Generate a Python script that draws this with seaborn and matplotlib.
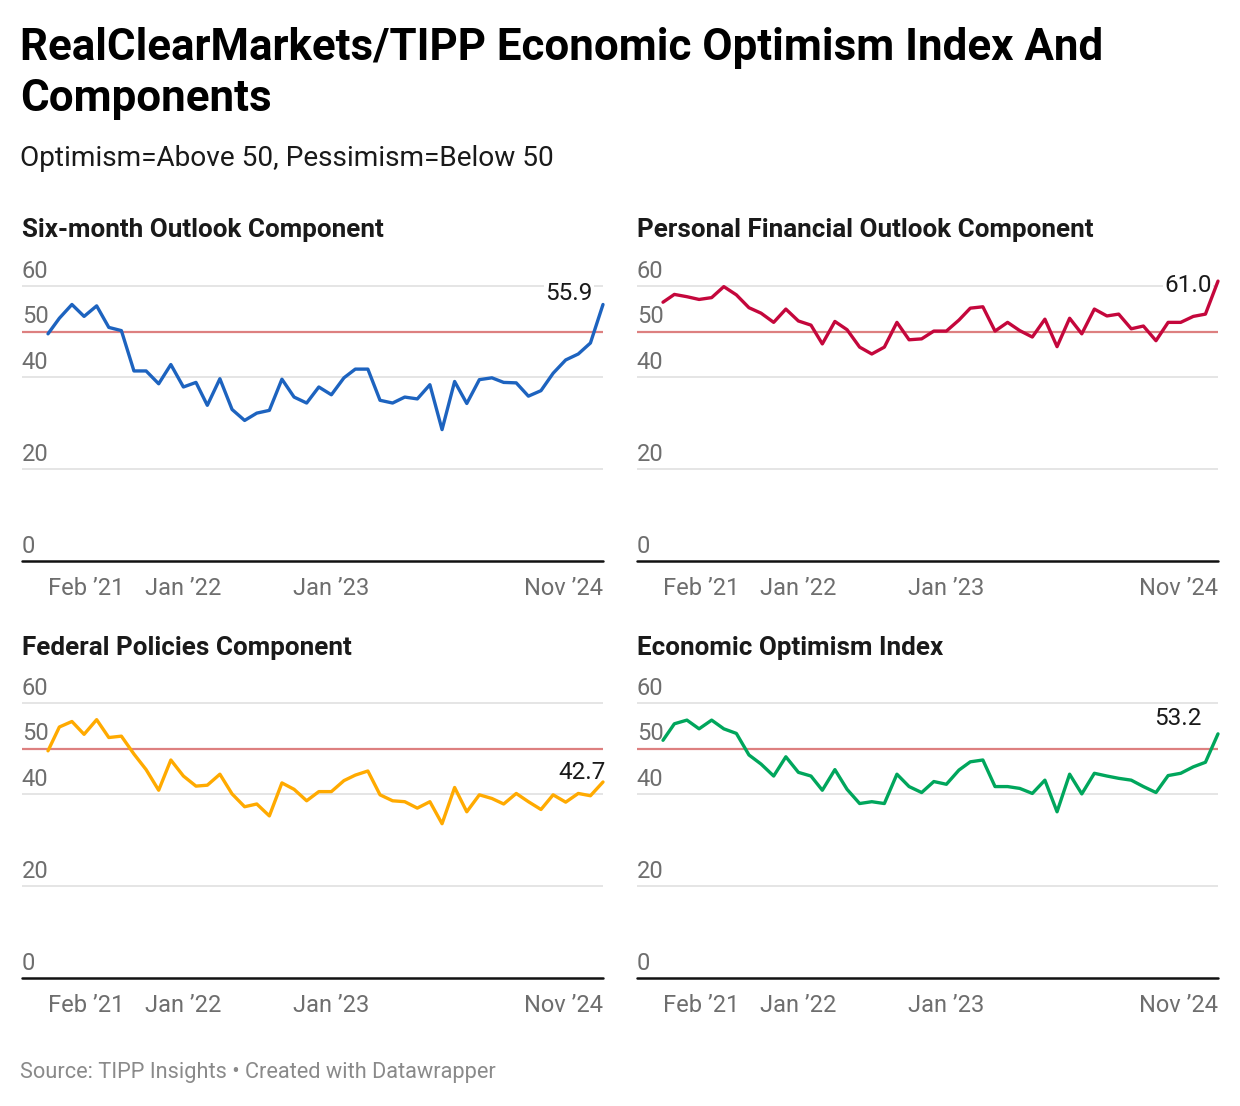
import matplotlib
matplotlib.use("Agg")
import matplotlib.pyplot as plt
import seaborn as sns
import pandas as pd

# ---------------- data ----------------
months = pd.date_range("2021-02-01", "2024-11-01", freq="MS")

six_month = [49.5, 52.9, 55.9, 53.3, 55.6, 50.9, 50.2, 41.4, 41.4, 38.6, 42.8, 37.9,
             38.9, 33.9, 39.7, 33.0, 30.6, 32.2, 32.8, 39.6, 35.7, 34.4, 37.9, 36.2,
             39.9, 41.8, 41.8, 35.0, 34.4, 35.7, 35.3, 38.4, 28.6, 39.1, 34.3, 39.5,
             39.9, 38.9, 38.8, 35.9, 37.1, 40.9, 43.8, 45.1, 47.5, 55.9]
personal = [56.4, 58.1, 57.6, 57.0, 57.4, 59.8, 58.0, 55.2, 54.0, 52.0, 54.9, 52.3,
            51.4, 47.3, 52.2, 50.4, 46.6, 45.1, 46.6, 52.0, 48.2, 48.4, 50.1, 50.1,
            52.5, 55.1, 55.4, 50.1, 52.0, 50.2, 48.8, 52.7, 46.7, 52.9, 49.5, 54.9,
            53.4, 53.8, 50.6, 51.2, 48.0, 52.0, 52.0, 53.3, 53.8, 61.0]
federal = [49.5, 54.7, 55.9, 53.1, 56.3, 52.4, 52.7, 48.8, 45.4, 40.9, 47.5, 44.0,
           41.8, 42.0, 44.4, 40.1, 37.3, 37.9, 35.3, 42.5, 41.1, 38.6, 40.6, 40.6,
           43.0, 44.2, 45.1, 39.9, 38.6, 38.4, 37.0, 38.4, 33.6, 41.5, 36.2, 39.9,
           39.1, 37.9, 40.2, 38.4, 36.7, 39.9, 38.3, 40.2, 39.7, 42.7]
optimism = [51.8, 55.4, 56.2, 54.3, 56.2, 54.3, 53.3, 48.6, 46.6, 44.0, 48.2, 44.8,
            44.0, 40.9, 45.4, 41.1, 38.0, 38.4, 38.0, 44.4, 41.7, 40.4, 42.8, 42.2,
            45.3, 47.1, 47.5, 41.7, 41.7, 41.3, 40.2, 43.1, 36.2, 44.4, 40.1, 44.6,
            44.0, 43.5, 43.1, 41.7, 40.4, 44.1, 44.6, 46.0, 47.0, 53.2]

panel_titles = ["Six-month Outlook Component", "Personal Financial Outlook Component",
                "Federal Policies Component", "Economic Optimism Index"]
series = [six_month, personal, federal, optimism]
value_labels = ["55.9", "61.0", "42.7", "53.2"]

tick_dates = ["2021-02-01", "2022-01-01", "2023-01-01", "2024-11-01"]
tick_labels = ["Feb \u201921", "Jan \u201922", "Jan \u201923", "Nov \u201924"]
y_labels = [0, 20, 40, 50, 60]
grid_values = [20, 40, 60]
reference_value = 50

title_line1 = "RealClearMarkets/TIPP Economic Optimism Index And"
title_line2 = "Components"
subtitle = "Optimism=Above 50, Pessimism=Below 50"
footer = "Source: TIPP Insights \u2022 Created with Datawrapper"

# ---------------- style ----------------
colors = ["#1d63bf", "#c4073c", "#ffaa00", "#00a65c"]
label_offsets = [(-7.2, 2.9), (-4.3, -7.6), (2.2, 1.9), (-12.2, 6.7)]  # points

sns.set_style("white")
plt.rcParams["font.family"] = ["Roboto", "DejaVu Sans"]

W, H = 1240, 1106
fig = plt.figure(figsize=(W / 100, H / 100), dpi=100)
fig.patch.set_facecolor("white")

px_per_unit = 275.0 / 60.0
ymax = 66.0
ax_w = 581.3
data_left_pad = 26.3
data_span_px = 555.0

panel_pos = [(21.7, 560.7), (636.7, 560.7), (21.7, 977.7), (636.7, 977.7)]
title_base = [237, 237, 655, 655]

start = months[0]
end = months[-1]
span = end - start
xleft = start - span * (data_left_pad / data_span_px)

for k in range(4):
    x0, ybase = panel_pos[k]
    h = ymax * px_per_unit
    ax = fig.add_axes([x0 / W, 1 - ybase / H, ax_w / W, h / H])
    ax.set_facecolor("none")
    df = pd.DataFrame({"month": months, "value": series[k]})
    sns.lineplot(data=df, x="month", y="value", ax=ax, color=colors[k],
                 linewidth=2.4, zorder=5)
    for ln in ax.lines:
        ln.set_clip_on(False)
        ln.set_solid_joinstyle("round")
        ln.set_solid_capstyle("round")
    for g in grid_values:
        ax.axhline(g, color="#e3e3e3", linewidth=1.3, zorder=1)
    ax.axhline(reference_value, color="#dd8080", linewidth=1.6, zorder=2)
    ax.axhline(0, color="#111111", linewidth=1.8, zorder=6, clip_on=False)
    ax.set_xlim(xleft, end)
    ax.set_ylim(0, ymax)
    for s in ax.spines.values():
        s.set_visible(False)
    ax.set_yticks([])
    ax.set_xlabel("")
    ax.set_ylabel("")
    ax.set_xticks(pd.to_datetime(tick_dates))
    ax.set_xticklabels(tick_labels)
    ax.tick_params(axis="x", length=0, pad=12, labelsize=17, colors="#6e6e6e")
    labs = ax.get_xticklabels()
    labs[0].set_ha("left")
    labs[-1].set_ha("right")
    for v in y_labels:
        ax.annotate(str(v), xy=(0, v), xycoords=("axes fraction", "data"),
                    xytext=(0, 5.8), textcoords="offset points",
                    ha="left", va="baseline", fontsize=17, color="#6e6e6e", zorder=3)
    dx, dy = label_offsets[k]
    ax.annotate(value_labels[k], xy=(months[-1], series[k][-1]), xycoords="data",
                xytext=(dx, dy), textcoords="offset points", ha="right", va="baseline",
                fontsize=17.5, color="#1a1a1a", zorder=4,
                bbox=dict(boxstyle="square,pad=0.05", fc="white", ec="none"))
    fig.text(x0 / W, 1 - title_base[k] / H, panel_titles[k], ha="left", va="baseline",
             fontsize=18.7, fontweight="bold", color="#1a1a1a")

fig.text(20 / W, 1 - 60 / H, title_line1, ha="left", va="baseline", fontsize=31.6,
         fontweight="bold", color="#000000")
fig.text(20 / W, 1 - 111 / H, title_line2, ha="left", va="baseline", fontsize=31.6,
         fontweight="bold", color="#000000")
fig.text(20 / W, 1 - 166 / H, subtitle, ha="left", va="baseline", fontsize=20.2,
         color="#1a1a1a")
fig.text(20 / W, 1 - 1078 / H, footer, ha="left", va="baseline", fontsize=15.7,
         color="#8a8a8a")

fig.savefig("out.png", dpi=100, facecolor="white")
